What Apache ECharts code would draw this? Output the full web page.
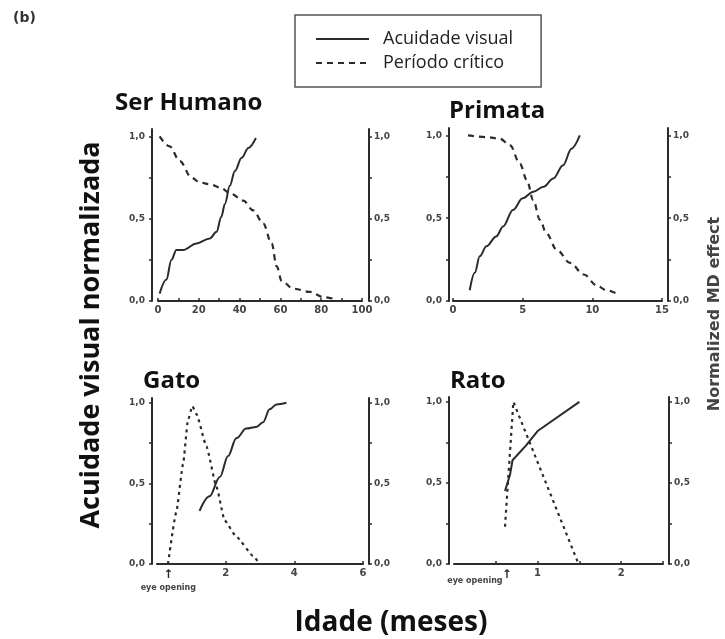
<!DOCTYPE html>
<html>
<head>
<meta charset="utf-8">
<script src="https://cdn.jsdelivr.net/npm/echarts@6/dist/echarts.min.js"></script>
<style>
  html, body { margin: 0; background: #fff; }
  #chart { width: 725px; height: 639px; }
</style>
</head>
<body>
<div id="chart"></div>
<script>
// names / labels
const seriesNames = ['Acuidade visual', 'Período crítico'];
const panelTitles = ['Ser Humano', 'Primata', 'Gato', 'Rato'];
const xMax = [100, 15, 6, 2.5];
const xInterval = [20, 5, 2, 0.5];
const xLabelValues = [[0, 20, 40, 60, 80, 100], [0, 5, 10, 15], [0, 0.33, 2, 4, 6], [0, 0.25, 0.63, 1, 2]];
const yLabelValues = [0, 0.5, 1];
const yTickValues = [0, 0.25, 0.5, 0.75, 1];
const eyeArrowAt = [null, null, 0.33, 0.63];
const eyeTextAt = [null, null, 0.33, 0.25];

// [idade, valor normalizado]
const humanAcuity = [[0.8, 0.045], [4.1, 0.13], [6.6, 0.25], [9, 0.31], [12.3, 0.31], [18.9, 0.35], [25.4, 0.38], [28.7, 0.42], [31, 0.51], [32.8, 0.59], [35.2, 0.70], [37.7, 0.79], [41, 0.87], [44.3, 0.93], [48, 0.99]];
const humanCritical = [[0.8, 1.0], [5.7, 0.94], [10.7, 0.85], [16.4, 0.75], [20.5, 0.72], [25.4, 0.71], [30.3, 0.69], [36, 0.65], [41.8, 0.61], [46.7, 0.55], [51.6, 0.47], [55.7, 0.35], [58.2, 0.21], [60.7, 0.12], [66.4, 0.075], [74.6, 0.055], [81, 0.024], [87.7, 0.008]];
const primateAcuity = [[1.2, 0.065], [1.56, 0.17], [1.92, 0.27], [2.4, 0.33], [3.1, 0.39], [3.6, 0.45], [4.3, 0.55], [5.0, 0.62], [5.76, 0.66], [6.5, 0.69], [7.2, 0.74], [7.9, 0.82], [8.5, 0.92], [9.1, 1.0]];
const primateCritical = [[1.08, 1.0], [2.4, 0.99], [3.36, 0.98], [4.1, 0.94], [4.8, 0.83], [5.3, 0.73], [5.76, 0.61], [6.24, 0.49], [6.7, 0.41], [7.44, 0.31], [8.4, 0.23], [9.4, 0.16], [10.3, 0.095], [11.0, 0.065], [11.76, 0.045]];
const catAcuity = [[1.24, 0.33], [1.53, 0.42], [1.83, 0.54], [2.07, 0.67], [2.31, 0.78], [2.6, 0.84], [2.89, 0.85], [3.09, 0.88], [3.28, 0.96], [3.48, 0.99], [3.77, 1.0]];
const catCritical = [[0.32, 0], [0.56, 0.32], [0.76, 0.62], [0.9, 0.89], [1.03, 0.98], [1.15, 0.93], [1.44, 0.73], [1.73, 0.48], [1.97, 0.27], [2.31, 0.17], [2.8, 0.05], [2.99, 0]];
const ratAcuity = [[0.61, 0.45], [0.67, 0.55], [0.70, 0.64], [0.86, 0.73], [1.0, 0.82], [1.5, 1.0]];
const ratCritical = [[0.61, 0.23], [0.71, 1.0], [1.49, 0]];

const acuity = [humanAcuity, primateAcuity, catAcuity, ratAcuity];
const critical = [humanCritical, primateCritical, catCritical, ratCritical];

const ink = '#2b2b2b';
const grids = [
  { left: 158, top: 129, width: 204, height: 172 },
  { left: 453, top: 128, width: 209, height: 173 },
  { left: 157, top: 398, width: 206, height: 166 },
  { left: 454, top: 397, width: 209, height: 167 }
];
const yMax = [1.045, 1.045, 1.03, 1.03];
const leftOffset = [6, 4, 5, 5];
const rightOffset = [7, 6, 6, 6];
const titlePos = [[115, 91], [449, 99], [143, 369], [450, 369]];

const near = (a, b) => b !== null && Math.abs(a - b) < 1e-6;
const comma = v => v.toFixed(1).replace('.', ',');

const xAxes = grids.map((g, i) => ({
  type: 'value', gridIndex: i, min: 0, max: xMax[i], interval: xInterval[i],
  axisLine: { onZero: false, lineStyle: { color: ink, width: 2 } },
  axisTick: { inside: true, length: 3, lineStyle: { color: ink, width: 1.5 } },
  minorTick: { show: i === 0, splitNumber: 2, length: 3, lineStyle: { color: ink, width: 1.5 } },
  splitLine: { show: false },
  axisLabel: {
    customValues: xLabelValues[i], margin: 4,
    fontFamily: 'DejaVu Sans', fontWeight: 'bold', fontSize: 10, color: '#444',
    formatter: v => {
      if (near(v, eyeArrowAt[i]) && near(v, eyeTextAt[i])) return '{a|↑}\n{s|eye opening}';
      if (near(v, eyeArrowAt[i])) return '{a|↑}';
      if (near(v, eyeTextAt[i])) return '{t|eye opening}';
      return String(v);
    },
    rich: {
      a: { fontSize: 12, lineHeight: 14, color: ink, fontFamily: 'DejaVu Sans' },
      s: { fontSize: 8, lineHeight: 12, color: '#444', fontFamily: 'DejaVu Sans', fontWeight: 'bold' },
      t: { fontSize: 8, lineHeight: 12, padding: [14, 0, 0, 0], color: '#444', fontFamily: 'DejaVu Sans', fontWeight: 'bold' }
    }
  }
}));

const yAxes = [];
grids.forEach((g, i) => {
  ['left', 'right'].forEach(side => {
    yAxes.push({
      type: 'value', gridIndex: i, position: side, min: 0, max: yMax[i],
      offset: side === 'left' ? leftOffset[i] : rightOffset[i],
      axisLine: { show: true, onZero: false, lineStyle: { color: ink, width: 2 } },
      axisTick: { show: true, length: 3, customValues: yTickValues, lineStyle: { color: ink, width: 1.5 } },
      splitLine: { show: false },
      axisLabel: {
        customValues: yLabelValues, margin: side === 'left' ? 7 : 5,
        fontFamily: 'DejaVu Sans', fontWeight: 'bold', fontSize: 9, color: '#444',
        formatter: comma
      }
    });
  });
});

const series = [];
grids.forEach((g, i) => {
  series.push({
    name: seriesNames[0], type: 'line', xAxisIndex: i, yAxisIndex: 2 * i,
    data: acuity[i], symbol: 'none', smooth: i === 3 ? false : 0.35, smoothMonotone: 'x',
    lineStyle: { color: ink, width: 2 }, itemStyle: { color: ink }
  });
});
grids.forEach((g, i) => {
  series.push({
    name: seriesNames[1], type: 'line', xAxisIndex: i, yAxisIndex: 2 * i,
    data: critical[i], symbol: 'none', smooth: i >= 2 ? (i === 2 ? 0.15 : false) : 0.35, smoothMonotone: 'x',
    lineStyle: { color: ink, width: 2.2, type: i < 2 ? [6, 5] : [3, 4] }, itemStyle: { color: ink }
  });
});

const chart = echarts.init(document.getElementById('chart'), null, { renderer: 'canvas' });
chart.setOption({
  animation: false,
  backgroundColor: '#fff',
  title: [{ text: '(b)', left: 13, top: 11, padding: 0, textStyle: { fontFamily: 'DejaVu Sans', fontSize: 14, fontWeight: 'bold', color: '#333' } }]
    .concat(panelTitles.map((t, i) => ({
      text: t, left: titlePos[i][0], top: titlePos[i][1], padding: 0,
      textStyle: { fontFamily: 'Open Sans', fontSize: 24, fontWeight: 'bold', color: '#111' }
    }))),
  legend: {
    orient: 'vertical', left: 295, top: 15,
    data: seriesNames,
    itemWidth: 53, itemHeight: 18, itemGap: 6,
    padding: [15, 28, 15, 20],
    borderColor: '#555', borderWidth: 1.5,
    selectedMode: false,
    itemStyle: { opacity: 0 },
    textStyle: { fontFamily: 'Open Sans', fontSize: 18, color: '#222', padding: [0, 0, 0, 9] }
  },
  grid: grids,
  xAxis: xAxes,
  yAxis: yAxes,
  series: series,
  graphic: [
    { type: 'text', x: 91, y: 335, rotation: Math.PI / 2,
      style: { text: 'Acuidade visual normalizada', fontFamily: 'Open Sans', fontSize: 27, fontWeight: 'bold', fill: '#111', align: 'center', verticalAlign: 'middle' } },
    { type: 'text', x: 715, y: 314, rotation: Math.PI / 2,
      style: { text: 'Normalized MD effect', fontFamily: 'DejaVu Sans', fontSize: 16, fontWeight: 'bold', fill: '#444', align: 'center', verticalAlign: 'middle' } },
    { type: 'text', x: 391, y: 623,
      style: { text: 'Idade (meses)', fontFamily: 'Open Sans', fontSize: 28, fontWeight: 'bold', fill: '#111', align: 'center', verticalAlign: 'middle' } }
  ]
});
window.addEventListener('resize', () => chart.resize());
</script>
</body>
</html>
